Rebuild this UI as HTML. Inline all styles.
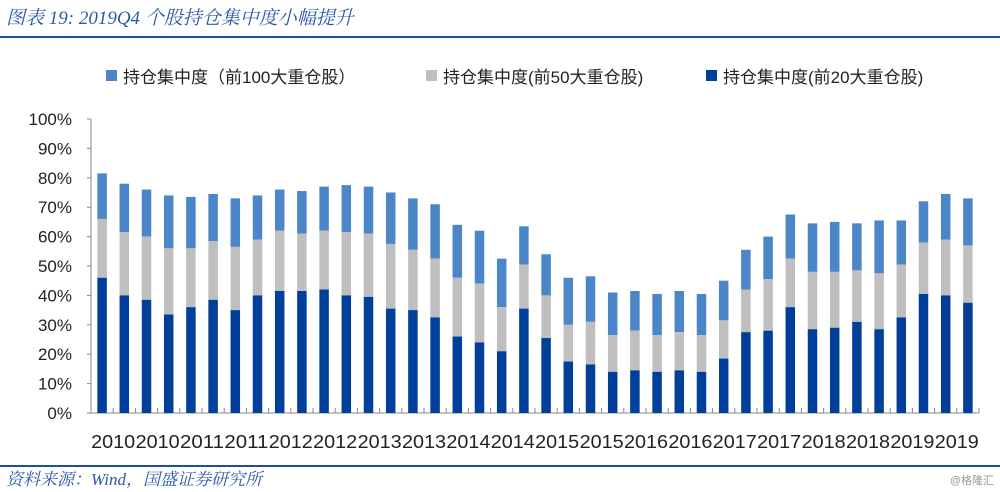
<!DOCTYPE html>
<html><head><meta charset="utf-8"><style>
body{margin:0;background:#fff;}
svg{display:block;font-family:"Liberation Sans","Noto Sans CJK SC",sans-serif;}
</style></head><body>
<svg width="1000" height="492" viewBox="0 0 1000 492">
<text x="6" y="24" font-size="19" fill="#2a5aa8" font-style="italic" font-family="Liberation Serif,'Noto Serif CJK SC',serif">图表 19:  2019Q4 个股持仓集中度小幅提升</text>
<line x1="0" y1="37" x2="1000" y2="37" stroke="#1f4e9c" stroke-width="2"/>
<g>
<rect x="106" y="70" width="11" height="11" fill="#4a86c8"/>
<text x="123" y="83" font-size="17" fill="#222">持仓集中度（前100大重仓股）</text>
<rect x="426" y="70" width="11" height="11" fill="#bfbfbf"/>
<text x="443" y="83" font-size="17" fill="#222">持仓集中度(前50大重仓股)</text>
<rect x="706" y="70" width="11" height="11" fill="#00409a"/>
<text x="723" y="83" font-size="17" fill="#222">持仓集中度(前20大重仓股)</text>
</g>
<g id="plot"></g>
<line x1="0" y1="466" x2="1000" y2="466" stroke="#1f4e9c" stroke-width="2"/>
<text x="6" y="485" font-size="17" fill="#2a5aa8" font-style="italic" font-family="Liberation Serif,'Noto Serif CJK SC',serif">资料来源：Wind，国盛证券研究所</text>
<text x="994" y="484" font-size="11" fill="#999" text-anchor="end">@格隆汇</text>
</svg>
<script>
const top100=[81.5,78,76,74,73.5,74.5,73,74,76,75.5,77,77.5,77,75,73,71,64,62,52.5,63.5,54,46,46.5,41,41.5,40.5,41.5,40.5,45,55.5,60,67.5,64.5,65,64.5,65.5,65.5,72,74.5,73];
const top50=[66,61.5,60,56,56,58.5,56.5,59,62,61,62,61.5,61,57.5,55.5,52.5,46,44,36,50.5,40,30,31,26.5,28,26.5,27.5,26.5,31.5,42,45.5,52.5,48,48,48.5,47.5,50.5,58,59,57];
const top20=[46,40,38.5,33.5,36,38.5,35,40,41.5,41.5,42,40,39.5,35.5,35,32.5,26,24,21,35.5,25.5,17.5,16.5,14,14.5,14,14.5,14,18.5,27.5,28,36,28.5,29,31,28.5,32.5,40.5,40,37.5];
const xLabels=["2010","2010","2011","2011","2012","2012","2013","2013","2014","2014","2015","2015","2016","2016","2017","2017","2018","2018","2019","2019"];
const yTicks=[0,10,20,30,40,50,60,70,80,90,100];
const NS="http://www.w3.org/2000/svg";
const g=document.getElementById('plot');
const X0=91,W=888,Y0=413,Y1=119,n=top100.length,slot=W/n,bw=9.5;
const y=v=>Y0-(v/100)*(Y0-Y1);
const xc=i=>X0+slot*(i+0.5);
function mk(t,a){const e=document.createElementNS(NS,t);for(const k in a)e.setAttribute(k,a[k]);g.appendChild(e);return e;}
yTicks.forEach(v=>{
 const t=mk('text',{x:72,y:y(v)+6,'font-size':17,'text-anchor':'end',fill:'#222'});
 t.textContent=v+'%';
 
 
 const l=mk('line',{x1:X0-4,x2:X0,y1:y(v),y2:y(v),stroke:'#888'});
 
 
});
const ax=mk('line',{x1:X0,x2:X0,y1:Y1,y2:Y0,stroke:'#888'});


const xa=mk('line',{x1:X0,x2:X0+W,y1:Y0,y2:Y0,stroke:'#888'});


for(let i=0;i<=n;i++){
 const t=mk('line',{x1:X0+slot*i,x2:X0+slot*i,y1:Y0,y2:Y0-5,stroke:'#888'});
 
 
}
for(let i=0;i<n;i++){
 const x=xc(i)-bw/2;
 const a=mk('rect',{x:x,y:y(top100[i]),width:bw,height:y(top50[i])-y(top100[i]),fill:'#4a86c8'});
 
 
 const b=mk('rect',{x:x,y:y(top50[i]),width:bw,height:y(top20[i])-y(top50[i]),fill:'#bfbfbf'});
 
 
 const c=mk('rect',{x:x,y:y(top20[i]),width:bw,height:Y0-y(top20[i]),fill:'#00409a'});
 
 
}
xLabels.forEach((s,j)=>{
 const cx=X0+slot*(2*j+1);
 const t=mk('text',{x:cx-22,y:448,'font-size':18,fill:'#222',textLength:44,lengthAdjust:'spacingAndGlyphs'});
 t.textContent=s;
 
 
});
</script>
</body></html>
